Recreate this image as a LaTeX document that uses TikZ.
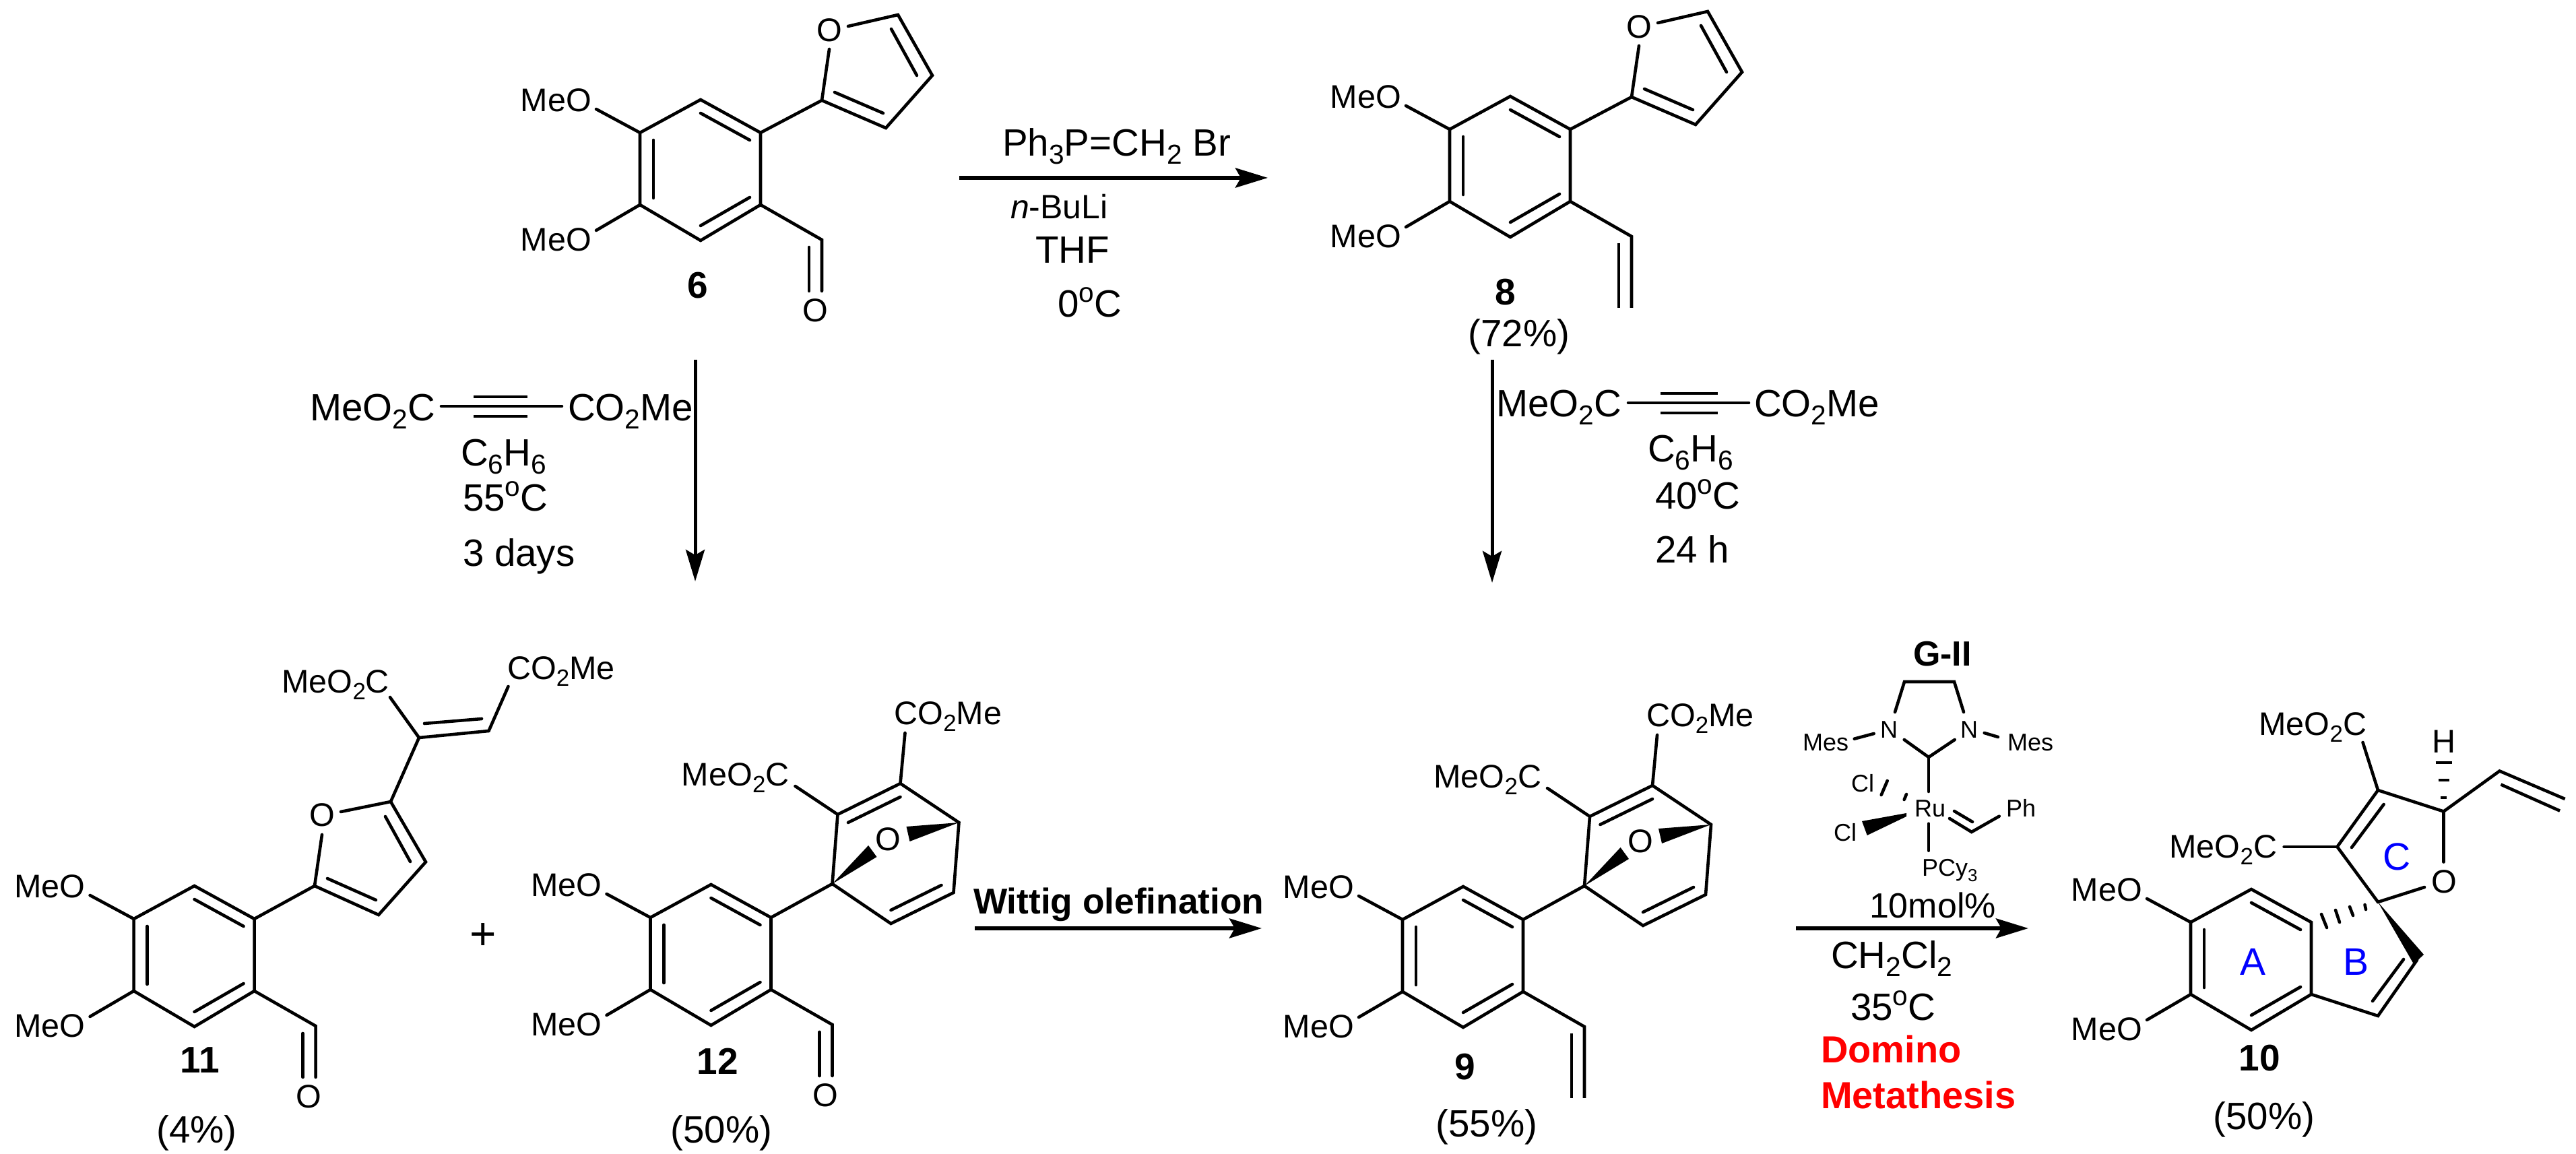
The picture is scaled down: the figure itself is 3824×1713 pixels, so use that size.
\documentclass[tikz,border=0pt]{standalone}
\usepackage{fontspec}
\setmainfont{Liberation Sans}
\usetikzlibrary{arrows.meta}
\newcommand\fmol{\fontsize{9.7}{11}\selectfont}
\newcommand\freag{\fontsize{11.3}{13}\selectfont}
\newcommand\fcat{\fontsize{7.2}{8.5}\selectfont}
\newcommand\fcmp{\fontsize{11}{13}\selectfont\bfseries}
\newcommand\chsub[1]{\raisebox{-0.2em}{\scalebox{0.72}{#1}}}
\newcommand\dg{\raisebox{0.4em}{\scalebox{0.72}{o}}}
\newcommand\cdn[3]{\coordinate (#1) at (#2,#3);}
\newcommand\bnd[2]{\draw[bond] (#1) -- (#2);}
\newcommand\bndd[2]{\draw[bond,line cap=butt] (#1) -- (#2);}
\tikzset{
  lab/.style={inner sep=0pt,outer sep=0pt,anchor=base west},
  molt/.style={lab,font=\fmol},
  reag/.style={lab,font=\freag},
  catt/.style={lab,font=\fcat},
  cmpd/.style={lab,font=\fcmp,anchor=base},
  yieldt/.style={lab,font=\freag,anchor=base},
  bond/.style={draw=black,line width=0.92pt,line cap=round,line join=miter},
  rxn/.style={draw=black,line width=1.2pt,-{Stealth[length=9.6pt,width=5.8pt,inset=1.6pt]}},
  rxnv/.style={draw=black,line width=1pt,-{Stealth[length=9.4pt,width=5.6pt,inset=1.6pt]}},
}
% dimethoxy benzene ring, drawn round the origin of the current scope
\newcommand\arylring[1]{%
  \cdn{#1t}{0}{-104}\cdn{#1ur}{89}{-55}\cdn{#1lr}{89}{52}\cdn{#1b}{0}{105}\cdn{#1ll}{-90}{52}\cdn{#1ul}{-90}{-55}
  \draw[bond] (#1t) -- (#1ur) -- (#1lr) -- (#1b) -- (#1ll) -- (#1ul) -- cycle;
  \cdn{#1ia}{0}{-84}\cdn{#1ib}{73}{-44}\bnd{#1ia}{#1ib}
  \cdn{#1ic}{-70}{-44}\cdn{#1id}{-70}{42}\bnd{#1ic}{#1id}
  \cdn{#1ie}{0}{83}\cdn{#1if}{73}{41}\bnd{#1ie}{#1if}
  \node[molt,anchor=base east] (#1mu) at (-162,-86) {MeO};
  \node[molt,anchor=base east] (#1ml) at (-162,121) {MeO};
  \cdn{#1eu}{-155}{-90}\cdn{#1el}{-155}{90}
  \bnd{#1ul}{#1eu}\bnd{#1ll}{#1el}
}
\newcommand\furyl[1]{%
  \cdn{#1f2}{180}{-103}\cdn{#1f3}{275}{-62}\cdn{#1f4}{344}{-140}\cdn{#1f5}{293}{-230}
  \node[molt,anchor=center] (#1fo) at (191,-207) {O};
  \cdn{#1fa}{219}{-213}\cdn{#1fb}{191}{-179}
  \draw[bond] (#1ur) -- (#1f2) -- (#1f3) -- (#1f4) -- (#1f5) -- (#1fa);
  \bnd{#1fb}{#1f2}
  \cdn{#1fc}{199}{-115}\cdn{#1fd}{271}{-84}\bnd{#1fc}{#1fd}
  \cdn{#1fe}{321}{-140}\cdn{#1ff}{283}{-209}\bnd{#1fe}{#1ff}
}
\newcommand\formyl[1]{%
  \cdn{#1c}{180}{104}\cdn{#1d}{180}{180}\cdn{#1e}{161}{115}\cdn{#1g}{161}{180}
  \draw[bond] (#1lr) -- (#1c) -- (#1d);
  \bnd{#1e}{#1g}
  \node[molt,anchor=center] (#1co) at (170,209) {O};
}
\newcommand\vinylgp[1]{%
  \cdn{#1c}{180}{104}\cdn{#1d}{180}{210}\cdn{#1e}{161}{114}\cdn{#1g}{161}{210}
  \draw[bond,line cap=butt] (#1lr) -- (#1c) -- (#1d);
  \bndd{#1e}{#1g}
}
\newcommand\oxabicycle[1]{%
  \cdn{#1k1}{180}{-105}\cdn{#1k2}{188}{-208}\cdn{#1k3}{281}{-254}\cdn{#1k4}{368}{-196}\cdn{#1k5}{360}{-92}\cdn{#1k6}{267}{-46}
  \draw[bond] (#1ur) -- (#1k1) -- (#1k2) -- (#1k3) -- (#1k4) -- (#1k5) -- (#1k6) -- (#1k1);
  \cdn{#1ka}{203.5}{-196}\cdn{#1kb}{281}{-234}\bnd{#1ka}{#1kb}
  \cdn{#1kc}{342}{-103}\cdn{#1kd}{267}{-66}\bnd{#1kc}{#1kd}
  \node[molt,anchor=center] (#1ko) at (263,-171) {O};
  \cdn{#1wa}{246}{-145}\cdn{#1wb}{233.6}{-162}\fill (#1k1) -- (#1wa) -- (#1wb) -- cycle;
  \cdn{#1wc}{290}{-190}\cdn{#1wd}{295}{-168}\fill (#1k4) -- (#1wc) -- (#1wd) -- cycle;
  \node[molt,anchor=base east] (#1e1) at (116,-250) {MeO\chsub{2}C};
  \node[molt] (#1e2) at (272,-341) {CO\chsub{2}Me};
  \cdn{#1ea}{125}{-250}\cdn{#1eb}{288}{-329}
  \bnd{#1k2}{#1ea}\bnd{#1k3}{#1eb}
}
\begin{document}
\begin{tikzpicture}[x=0.2pt,y=-0.2pt]
\useasboundingbox (0,0) rectangle (3824,1713);
% compound 6
\begin{scope}[shift={(1040,252)}]
  \arylring{a}\furyl{a}\formyl{a}
\end{scope}
\node[cmpd] (n6) at (1036,443) {6};
% compound 8
\begin{scope}[shift={(2242,247)}]
  \arylring{b}\furyl{b}\vinylgp{b}
\end{scope}
\node[cmpd] (n8) at (2235,453) {8};
\node[yieldt] (y8) at (2255,515) {(72\%)};
% top reaction arrow
\cdn{r1s}{1424}{264}\cdn{r1e}{1882}{264}
\draw[rxn] (r1s) -- (r1e);
\node[reag] (r1a) at (1488,232) {Ph\chsub{3}P=CH\chsub{2} Br};
\node[lab,font=\fontsize{10}{12}\selectfont] (r1b) at (1500,325) {\textit{n}-BuLi};
\node[reag] (r1c) at (1537,391) {THF};
\node[reag] (r1d) at (1570,471) {0\dg C};
% left vertical arrow
\cdn{r2s}{1032}{534}\cdn{r2e}{1032}{863}
\draw[rxnv] (r2s) -- (r2e);
\node[reag] (r2a) at (460,625) {MeO\chsub{2}C};
\node[reag] (r2b) at (843,625) {CO\chsub{2}Me};
\cdn{r2t}{655}{603}\cdn{r2u}{834}{603}\bnd{r2t}{r2u}
\cdn{r2v}{703}{589}\cdn{r2w}{783}{589}\bndd{r2v}{r2w}
\cdn{r2x}{703}{618}\cdn{r2y}{783}{618}\bndd{r2x}{r2y}
\node[reag] (r2c) at (684,692) {C\chsub{6}H\chsub{6}};
\node[reag] (r2d) at (687,759) {55\dg C};
\node[reag] (r2f) at (687,841) {3 days};
% right vertical arrow
\cdn{r3s}{2215}{534}\cdn{r3e}{2215}{865}
\draw[rxnv] (r3s) -- (r3e);
\node[reag] (r3a) at (2221,619) {MeO\chsub{2}C};
\node[reag] (r3b) at (2604,619) {CO\chsub{2}Me};
\cdn{r3t}{2417}{598}\cdn{r3u}{2596}{598}\bnd{r3t}{r3u}
\cdn{r3v}{2465}{584}\cdn{r3w}{2550}{584}\bndd{r3v}{r3w}
\cdn{r3x}{2465}{613}\cdn{r3y}{2550}{613}\bndd{r3x}{r3y}
\node[reag] (r3c) at (2446,686) {C\chsub{6}H\chsub{6}};
\node[reag] (r3d) at (2457,756) {40\dg C};
\node[reag] (r3f) at (2457,836) {24 h};
% compound 11
\begin{scope}[shift={(288.6,1419)}]
  \arylring{c}\formyl{c}
\end{scope}
\cdn{c2}{467}{1315}\cdn{c3}{562}{1358}\cdn{c4}{632}{1279.5}\cdn{c5}{580}{1190}
\node[molt,anchor=center] (co) at (478.5,1210) {O};
\cdn{coa}{506}{1205}\cdn{cob}{478}{1239}
\draw[bond] (cur) -- (c2) -- (c3) -- (c4) -- (c5) -- (coa);
\bnd{cob}{c2}
\cdn{cfa}{486}{1304}\cdn{cfb}{558}{1336}\bnd{cfa}{cfb}
\cdn{cfc}{609}{1279}\cdn{cfd}{572}{1212}\bnd{cfc}{cfd}
\cdn{cv1}{622}{1095}\cdn{cv2}{725.5}{1085}
\bnd{c5}{cv1}\bnd{cv1}{cv2}
\cdn{cv3}{630}{1074}\cdn{cv4}{715}{1067}\bnd{cv3}{cv4}
\node[molt,anchor=base east] (ce1) at (578,1029) {MeO\chsub{2}C};
\node[molt] (ce2) at (753,1009) {CO\chsub{2}Me};
\cdn{cea}{579}{1035}\cdn{ceb}{754.5}{1019}
\bnd{cv1}{cea}\bnd{cv2}{ceb}
\node[cmpd] (n11) at (297,1593) {11};
\node[yieldt] (y11) at (292,1697) {(4\%)};
\node[lab,anchor=base,font=\fontsize{13.5}{15}\selectfont] (plus) at (717,1410) {+};
% compound 12
\begin{scope}[shift={(1055.5,1417)}]
  \arylring{d}\formyl{d}\oxabicycle{d}
\end{scope}
\node[cmpd] (n12) at (1065.5,1595) {12};
\node[yieldt] (y12) at (1071,1697) {(50\%)};
% Wittig arrow
\cdn{r4s}{1447}{1378}\cdn{r4e}{1873}{1378}
\draw[rxn] (r4s) -- (r4e);
\node[lab,font=\fontsize{10.65}{12.5}\selectfont\bfseries] (r4a) at (1445,1357) {Wittig olefination};
% compound 9
\begin{scope}[shift={(2172,1420)}]
  \arylring{e}\vinylgp{e}\oxabicycle{e}
\end{scope}
\node[cmpd] (n9) at (2175,1603) {9};
\node[yieldt] (y9) at (2207,1688) {(55\%)};
% catalyst G-II
\node[lab,font=\fontsize{10.4}{12}\selectfont\bfseries] (g2) at (2840,989) {G-II};
\node[catt,anchor=base] (nl) at (2804,1096) {N};
\node[catt,anchor=base] (nr) at (2923,1096) {N};
\cdn{g1}{2813}{1057}\cdn{g3}{2827}{1012}\cdn{g4}{2901}{1012}\cdn{g5}{2915}{1057}
\draw[bond] (g1) -- (g3) -- (g4) -- (g5);
\cdn{g6}{2826.7}{1098}\cdn{g7}{2863}{1124}\cdn{g8}{2901.7}{1098}
\draw[bond] (g6) -- (g7) -- (g8);
\node[catt] (ml) at (2676,1115) {Mes};
\node[catt] (mr) at (2980,1115) {Mes};
\cdn{g9}{2752.7}{1096.7}\cdn{g10}{2781.7}{1089}\bnd{g9}{g10}
\cdn{g11}{2945.7}{1088}\cdn{g12}{2966}{1094}\bnd{g11}{g12}
\cdn{g13}{2863}{1175}\bnd{g7}{g13}
\node[catt] (ru) at (2842,1212.7) {Ru};
\node[catt] (cl1) at (2748,1176) {Cl};
\node[catt] (cl2) at (2722,1249) {Cl};
\cdn{g14}{2801.7}{1159}\cdn{g15}{2792.7}{1180}\bnd{g14}{g15}
\cdn{g16}{2830}{1179}\cdn{g17}{2826.7}{1187}\bnd{g16}{g17}
\cdn{g18}{2830}{1207}\cdn{g19}{2830}{1212}\cdn{g20}{2771.7}{1240}\cdn{g21}{2764}{1219}
\fill (g18) -- (g19) -- (g20) -- (g21) -- cycle;
\cdn{g22}{2894}{1215}\cdn{g23}{2926.7}{1235}\cdn{g24}{2967.7}{1211.7}
\draw[bond] (g22) -- (g23) -- (g24);
\cdn{g25}{2901}{1204}\cdn{g26}{2928}{1220}\bnd{g25}{g26}
\node[catt] (ph) at (2978,1212.7) {Ph};
\cdn{g27}{2863}{1222.7}\cdn{g28}{2863}{1262.7}\bnd{g27}{g28}
\node[catt] (pc) at (2853,1301) {PCy\chsub{3}};
% metathesis arrow
\cdn{r5s}{2666}{1378}\cdn{r5e}{3011}{1378}
\draw[rxn] (r5s) -- (r5e);
\node[lab,font=\fontsize{10.4}{12}\selectfont] (r5a) at (2775,1363) {10mol\%};
\node[reag] (r5b) at (2718,1438) {CH\chsub{2}Cl\chsub{2}};
\node[reag] (r5c) at (2747,1515) {35\dg C};
\node[lab,font=\fontsize{11.2}{13}\selectfont\bfseries,text=red] (r5d) at (2703,1578) {Domino};
\node[lab,font=\fontsize{11.2}{13}\selectfont\bfseries,text=red] (r5f) at (2703,1646) {Metathesis};
% compound 10
\begin{scope}[shift={(3342,1424)}]
  \arylring{f}
\end{scope}
\cdn{fs}{3530}{1339}\cdn{f3}{3469.5}{1257}\cdn{f4}{3530}{1173}\cdn{f5}{3627.5}{1204.5}
\draw[bond] (fs) -- (f3) -- (f4) -- (f5);
\cdn{fa}{3538.6}{1194}\cdn{fb}{3491}{1258}\bnd{fa}{fb}
\node[molt,anchor=center] (fo) at (3628.5,1309) {O};
\cdn{fc}{3627.5}{1279.5}\bnd{f5}{fc}
\cdn{fd}{3599}{1317}\bnd{fs}{fd}
\cdn{fe}{3710.5}{1144.5}\cdn{ff}{3807.6}{1186}
\draw[bond,line cap=butt] (f5) -- (fe) -- (ff);
\cdn{fg}{3712.4}{1164.5}\cdn{fh}{3800}{1203.6}\bndd{fg}{fh}
\node[molt,anchor=base east] (fe1) at (3513,1092) {MeO\chsub{2}C};
\cdn{fi}{3507.5}{1102}\bnd{f4}{fi}
\node[molt,anchor=base east] (fe2) at (3380,1274) {MeO\chsub{2}C};
\cdn{fj}{3390.6}{1257}\bnd{f3}{fj}
\node[molt,anchor=base] (fh1) at (3627.5,1118) {H};
\cdn{fk}{3615.5}{1132}\cdn{fl}{3639.5}{1132}\bndd{fk}{fl}
\cdn{fm}{3619.5}{1158}\cdn{fn}{3635.5}{1158}\bndd{fm}{fn}
\cdn{fp}{3623}{1184}\cdn{fq}{3632}{1184}\bndd{fp}{fq}
\cdn{fr}{3598}{1417}\cdn{ft}{3583}{1431}\fill (fs) -- (fr) -- (ft) -- cycle;
\cdn{fu}{3588}{1425}\cdn{fv}{3530}{1508}
\draw[bond] (fu) -- (fv) -- (flr);
\cdn{fw}{3568}{1424}\cdn{fx}{3522}{1486}\bnd{fw}{fx}
\cdn{h1a}{3510.5}{1343}\cdn{h1b}{3512}{1350}\bnd{h1a}{h1b}
\cdn{h2a}{3488}{1346}\cdn{h2b}{3493}{1359}\bnd{h2a}{h2b}
\cdn{h3a}{3467}{1351}\cdn{h3b}{3473}{1369}\bnd{h3a}{h3b}
\cdn{h4a}{3446}{1357}\cdn{h4b}{3454}{1377}\bnd{h4a}{h4b}
\node[lab,font=\fontsize{11.4}{13}\selectfont,text=blue,anchor=base] (la) at (3344,1448) {A};
\node[lab,font=\fontsize{11.4}{13}\selectfont,text=blue,anchor=base] (lb) at (3497,1448) {B};
\node[lab,font=\fontsize{11.4}{13}\selectfont,text=blue,anchor=base] (lc) at (3558,1292) {C};
\node[cmpd] (n10) at (3354.5,1589.5) {10};
\node[yieldt] (y10) at (3361,1677) {(50\%)};
\end{tikzpicture}
\end{document}
